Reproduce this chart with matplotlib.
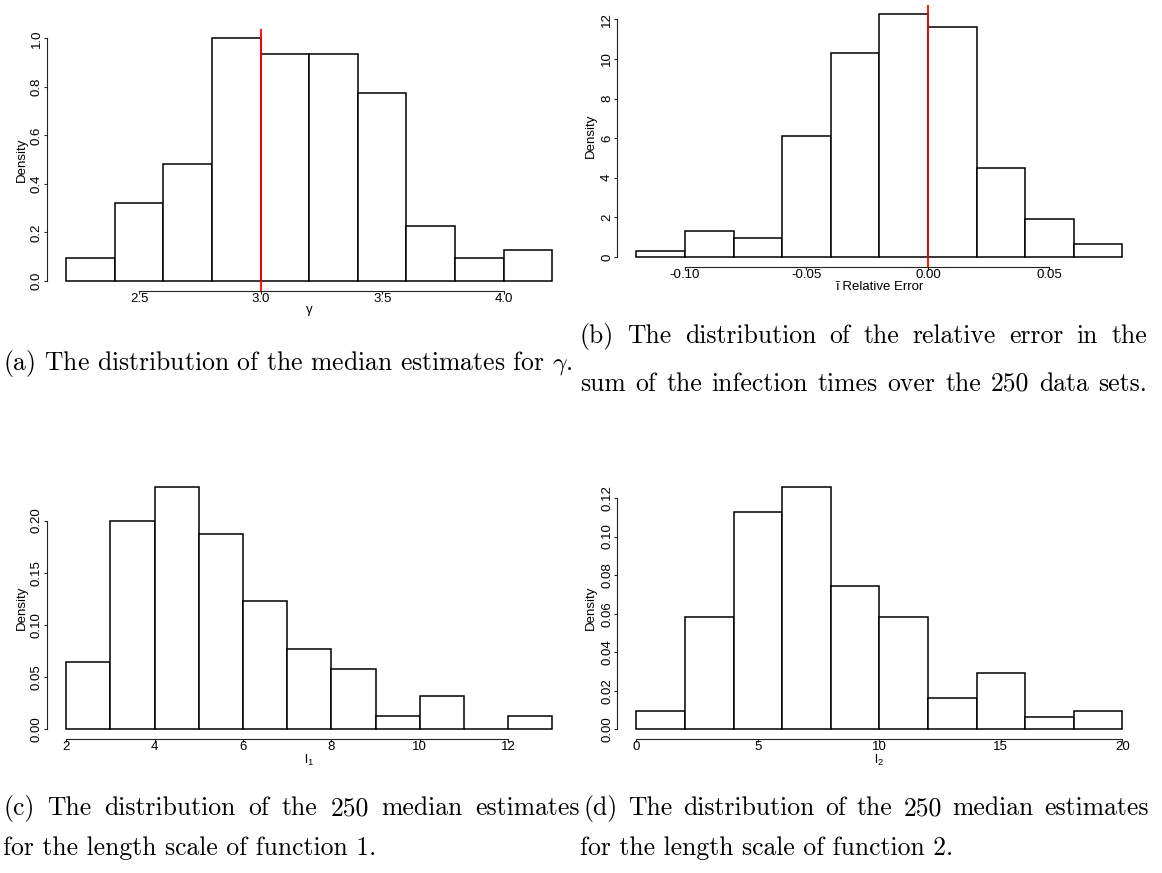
import matplotlib
matplotlib.use("Agg")
import matplotlib.pyplot as plt
from matplotlib.font_manager import FontProperties
import numpy as np

plt.rcParams['font.family'] = ['Liberation Sans', 'DejaVu Sans']
plt.rcParams['mathtext.fontset'] = 'custom'
plt.rcParams['mathtext.rm'] = 'Liberation Sans'
plt.rcParams['mathtext.it'] = 'Liberation Sans'

# ---- histogram data (bin edges and densities) ----
gamma_edges = [2.2, 2.4, 2.6, 2.8, 3.0, 3.2, 3.4, 3.6, 3.8, 4.0, 4.2]
gamma_density = [0.0968, 0.3226, 0.4839, 1.0000, 0.9355, 0.9355, 0.7742, 0.2258, 0.0968, 0.1290]
gamma_true = 3.0
gamma_xticks = [2.5, 3.0, 3.5, 4.0]
gamma_xlabels = ["2.5", "3.0", "3.5", "4.0"]
gamma_yticks = [0.0, 0.2, 0.4, 0.6, 0.8, 1.0]
gamma_ylabels = ["0.0", "0.2", "0.4", "0.6", "0.8", "1.0"]

relerr_edges = [-0.12, -0.10, -0.08, -0.06, -0.04, -0.02, 0.00, 0.02, 0.04, 0.06, 0.08]
relerr_density = [0.3226, 1.2903, 0.9677, 6.1290, 10.3226, 12.2581, 11.6129, 4.5161, 1.9355, 0.6452]
relerr_true = 0.0
relerr_xticks = [-0.10, -0.05, 0.00, 0.05]
relerr_xlabels = ["-0.10", "-0.05", "0.00", "0.05"]
relerr_yticks = [0, 2, 4, 6, 8, 10, 12]
relerr_ylabels = ["0", "2", "4", "6", "8", "10", "12"]

l1_edges = [2, 3, 4, 5, 6, 7, 8, 9, 10, 11, 12, 13]
l1_density = [0.0645, 0.2000, 0.2323, 0.1871, 0.1226, 0.0774, 0.0581, 0.0129, 0.0323, 0.0, 0.0129]
l1_xticks = [2, 4, 6, 8, 10, 12]
l1_xlabels = ["2", "4", "6", "8", "10", "12"]
l1_yticks = [0.00, 0.05, 0.10, 0.15, 0.20]
l1_ylabels = ["0.00", "0.05", "0.10", "0.15", "0.20"]

l2_edges = [0, 2, 4, 6, 8, 10, 12, 14, 16, 18, 20]
l2_density = [0.0097, 0.0581, 0.1129, 0.1258, 0.0742, 0.0581, 0.0161, 0.0290, 0.0065, 0.0097]
l2_xticks = [0, 5, 10, 15, 20]
l2_xlabels = ["0", "5", "10", "15", "20"]
l2_yticks = [0.00, 0.02, 0.04, 0.06, 0.08, 0.10, 0.12]
l2_ylabels = ["0.00", "0.02", "0.04", "0.06", "0.08", "0.10", "0.12"]

captions = {
    "a": ["(a) The distribution of the median estimates for $\\gamma$."],
    "b": ["(b) The distribution of the relative error in the",
          "sum of the infection times over the 250 data sets."],
    "c": ["(c) The distribution of the 250 median estimates",
          "for the length scale of function 1."],
    "d": ["(d) The distribution of the 250 median estimates",
          "for the length scale of function 2."],
}

W, H = 1162, 873
fig = plt.figure(figsize=(W / 100, H / 100), dpi=100)
fig.patch.set_facecolor("white")

TICK_FS = 9.5


def r_hist(rect, edges, dens, xticks, xlabels, yticks, ylabels, xlabel,
           xlab_y, ylab_x, vline=None):
    ax = fig.add_axes(rect)
    edges = np.asarray(edges, dtype=float)
    ax.bar(edges[:-1], dens, width=np.diff(edges), align="edge",
           facecolor="white", edgecolor="black", linewidth=1.1)
    span = edges[-1] - edges[0]
    ax.set_xlim(edges[0] - 0.04 * span, edges[-1] + 0.04 * span)
    top = max(dens)
    ax.set_ylim(-0.04 * top, 1.04 * top)
    for s in ("top", "right"):
        ax.spines[s].set_visible(False)
    for s in ("left", "bottom"):
        ax.spines[s].set_linewidth(0.8)
        ax.spines[s].set_color("#222222")
    ax.spines["left"].set_bounds(yticks[0], yticks[-1])
    ax.spines["bottom"].set_bounds(xticks[0], xticks[-1])
    ax.set_xticks(xticks, xlabels)
    ax.set_yticks(yticks, ylabels)
    ax.tick_params(axis="x", length=2.4, width=0.8, pad=-0.6,
                   labelsize=TICK_FS, color="#222222")
    ax.tick_params(axis="y", length=2.4, width=0.8, pad=0.4,
                   labelsize=TICK_FS, labelrotation=90, color="#222222")
    for lab in ax.get_yticklabels():
        lab.set_va("center")
    ax.set_ylabel("Density", fontsize=TICK_FS)
    ax.yaxis.label.set_va("center")
    ax.yaxis.set_label_coords(ylab_x, 0.5)
    ax.set_xlabel(xlabel, fontsize=TICK_FS)
    ax.xaxis.label.set_va("center")
    ax.xaxis.set_label_coords(0.5, xlab_y)
    if vline is not None:
        ax.axvline(vline, color="red", linewidth=1.3)
    ax.set_facecolor("none")
    return ax


def px_rect(x0, x1, ytop, ybot):
    return [x0 / W, 1 - ybot / H, (x1 - x0) / W, (ybot - ytop) / H]


r_hist(px_rect(46.8, 571.7, 28.6, 290.7), gamma_edges, gamma_density,
       gamma_xticks, gamma_xlabels, gamma_yticks, gamma_ylabels,
       "γ", -0.074, -0.047, vline=gamma_true)
r_hist(px_rect(617.0, 1141.7, 4.5, 266.7), relerr_edges, relerr_density,
       relerr_xticks, relerr_xlabels, relerr_yticks, relerr_ylabels,
       "ĩ Relative Error", -0.078, -0.049, vline=relerr_true)
r_hist(px_rect(46.8, 571.7, 477.2, 739.0), l1_edges, l1_density,
       l1_xticks, l1_xlabels, l1_yticks, l1_ylabels,
       "$\\mathrm{l}_1$", -0.081, -0.047)
r_hist(px_rect(617.0, 1141.7, 477.1, 739.0), l2_edges, l2_density,
       l2_xticks, l2_xlabels, l2_yticks, l2_ylabels,
       "$\\mathrm{l}_2$", -0.081, -0.049)

# ---- captions in Computer Modern, justified like the typeset page ----
renderer = fig.canvas.get_renderer()


def cap_prop(size):
    return FontProperties(family="cmr10", size=size, math_fontfamily="cm")


def text_width(s, size):
    t = fig.text(0, 0, s, fontproperties=cap_prop(size))
    w = t.get_window_extent(renderer).width
    t.remove()
    return w


# font size chosen so the one-line caption (a) spans its typeset width
cap_size = 10 * (571.0 / text_width(captions["a"][0], 10))


def put_line(s, x0, x1, baseline, justify):
    if not justify:
        fig.text(x0 / W, 1 - baseline / H, s, fontproperties=cap_prop(cap_size),
                 va="baseline", ha="left")
        return
    words = s.split(" ")
    widths = [text_width(w, cap_size) for w in words]
    gap = (x1 - x0 - sum(widths)) / (len(words) - 1)
    x = x0
    for w, wd in zip(words, widths):
        fig.text(x / W, 1 - baseline / H, w, fontproperties=cap_prop(cap_size),
                 va="baseline", ha="left")
        x += wd + gap


put_line(captions["a"][0], 3, 574, 370, False)
put_line(captions["b"][0], 580, 1147, 343, True)
put_line(captions["b"][1], 580, 1147, 391, True)
put_line(captions["c"][0], 3, 580, 815, True)
put_line(captions["c"][1], 3, 393, 855, False)
put_line(captions["d"][0], 583, 1149, 815, True)
put_line(captions["d"][1], 580, 940, 855, False)

fig.savefig("out.png", dpi=100)
